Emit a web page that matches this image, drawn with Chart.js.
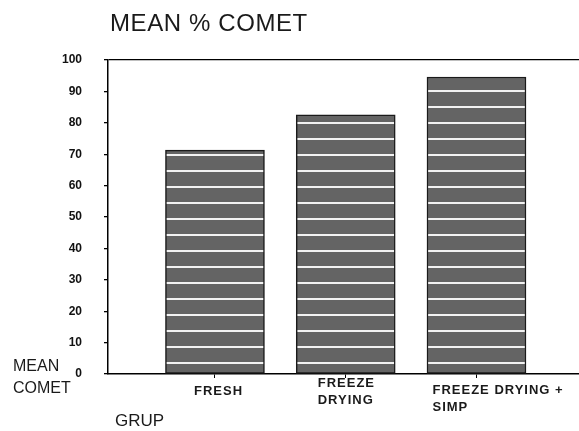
<!DOCTYPE html>
<html>
<head>
<meta charset="utf-8">
<script src="https://cdn.jsdelivr.net/npm/chart.js@4"></script>
<style>
  body { margin: 0; background: #fff; }
  canvas { display: block; }
</style>
</head>
<body>
<canvas id="myChart" width="579" height="431"></canvas>
<script>
// values
const categories = [['FRESH'], ['FREEZE', 'DRYING'], ['FREEZE DRYING +', 'SIMP']];
const meanComet = [71.3, 82.5, 94.6];
const yTicks = [0, 10, 20, 30, 40, 50, 60, 70, 80, 90, 100];
const chartTitle = 'MEAN % COMET';
const yTitle = ['MEAN', 'COMET'];
const xTitle = 'GRUP';

const ctx = document.getElementById('myChart');

// grey bars with thin white bands
const tile = document.createElement('canvas');
tile.width = 8;
tile.height = 16;
const t = tile.getContext('2d');
t.fillStyle = '#646464';
t.fillRect(0, 0, 8, 16);
t.fillStyle = '#f2f2f2';
t.fillRect(0, 10, 8, 2);
const stripes = t.createPattern(tile, 'repeat');

const textPlugin = {
  id: 'scanText',
  afterDraw(chart) {
    const c = chart.ctx;
    const x = chart.scales.x;
    c.save();
    c.fillStyle = '#1a1a1a';
    c.textBaseline = 'middle';
    c.textAlign = 'left';

    c.letterSpacing = '0.6px';
    c.font = '24px "Liberation Sans", Arial, sans-serif';
    c.fillText(chartTitle, 110, 24);

    c.letterSpacing = '0px';
    c.font = '16px "Liberation Sans", Arial, sans-serif';
    c.fillText(yTitle[0], 13, 367);
    c.fillText(yTitle[1], 13, 389);

    c.font = '17px "Liberation Sans", Arial, sans-serif';
    c.fillText(xTitle, 115, 421);

    // category labels sit a little off-centre in the original
    const dx = [-21, -28, -44];
    const y0 = [391, 383, 390];
    c.letterSpacing = '1px';
    c.font = 'bold 13px "Liberation Sans", Arial, sans-serif';
    categories.forEach((lines, i) => {
      const px = x.getPixelForValue(i + 1) + dx[i];
      lines.forEach((line, j) => c.fillText(line, px, y0[i] + j * 17));
    });
    c.restore();
  }
};

new Chart(ctx, {
  type: 'bar',
  data: {
    datasets: [{
      data: meanComet.map((v, i) => ({ x: i + 1, y: v })),
      backgroundColor: stripes,
      borderColor: '#1a1a1a',
      borderWidth: 1.5,
      borderSkipped: false,
      barThickness: 99
    }]
  },
  options: {
    responsive: false,
    animation: false,
    layout: { padding: { top: 60, left: 0, right: 0, bottom: 0 } },
    plugins: {
      legend: { display: false },
      tooltip: { enabled: false }
    },
    scales: {
      x: {
        type: 'linear',
        offset: false,
        min: 0.182,
        max: 3.784,
        afterBuildTicks: (scale) => {
          scale.ticks = categories.map((c, i) => ({ value: i + 1 }));
        },
        afterFit: (scale) => { scale.height = 57; },
        ticks: { display: false },
        grid: { offset: false, drawOnChartArea: false, drawTicks: true, tickLength: 4, color: '#000' },
        border: { display: true, color: '#000', width: 1.5 }
      },
      y: {
        min: 0,
        max: 100,
        afterBuildTicks: (scale) => {
          scale.ticks = yTicks.map(v => ({ value: v }));
        },
        afterFit: (scale) => { scale.width = 108; },
        ticks: {
          padding: 22,
          color: '#111',
          font: { family: '"Liberation Sans", Arial, sans-serif', size: 12, weight: 'bold' }
        },
        grid: {
          color: (c) => c.tick && c.tick.value === 100 ? '#000' : 'rgba(0,0,0,0)',
          tickColor: '#000',
          tickLength: 4,
          lineWidth: 1.3
        },
        border: { display: true, color: '#000', width: 1.5 }
      }
    }
  },
  plugins: [textPlugin]
});
</script>
</body>
</html>
